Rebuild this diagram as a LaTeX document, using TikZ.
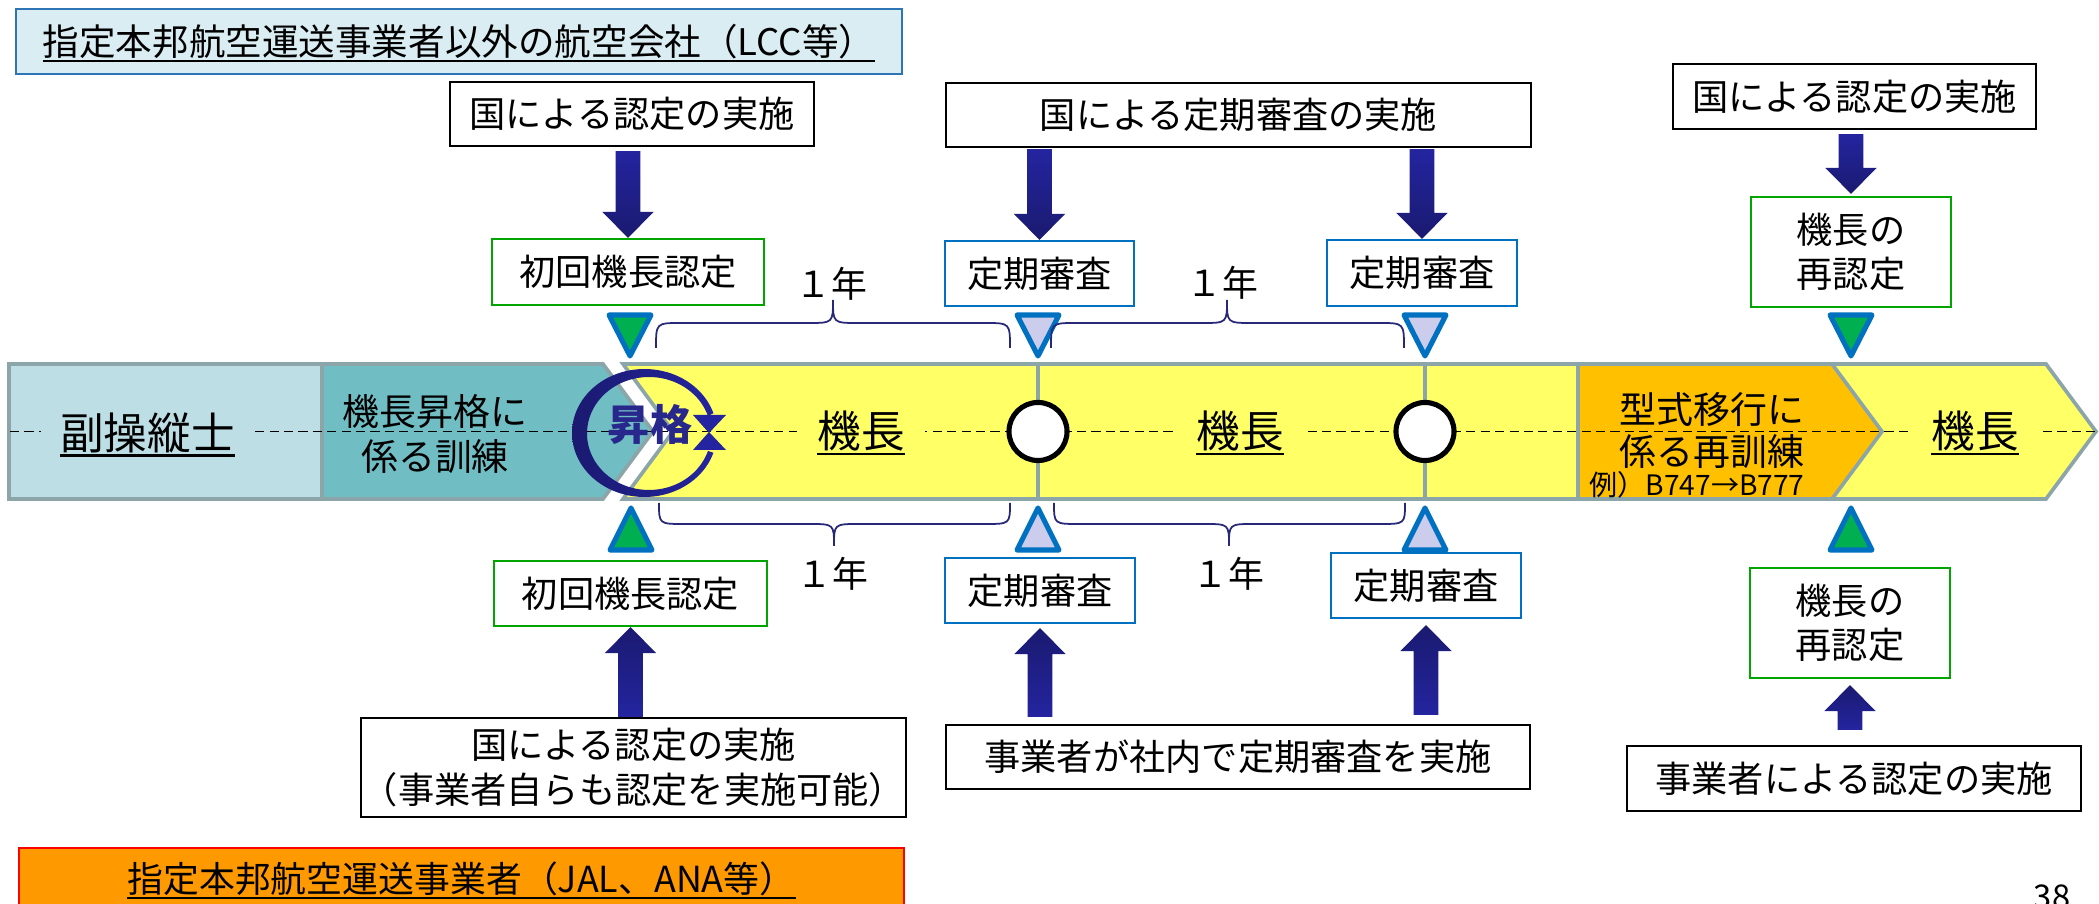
\documentclass[tikz,border=0pt]{standalone}
\usepackage{fontspec}
\setmainfont{Noto Sans CJK JP}
\usetikzlibrary{calc}
\definecolor{barblue}{RGB}{188,222,228}
\definecolor{barteal}{RGB}{112,189,195}
\definecolor{baryel}{RGB}{255,255,102}
\definecolor{barorg}{RGB}{255,192,0}
\definecolor{bargray}{RGB}{140,165,168}
\definecolor{navy}{RGB}{36,36,160}
\definecolor{navyd}{RGB}{26,26,112}
\definecolor{ringtext}{RGB}{40,40,140}
\definecolor{triblue}{RGB}{0,112,192}
\definecolor{trigreen}{RGB}{0,176,80}
\definecolor{trilav}{RGB}{204,204,236}
\definecolor{boxgreen}{RGB}{0,165,0}
\definecolor{boxblue}{RGB}{0,112,192}
\definecolor{titlefill}{RGB}{218,237,242}
\definecolor{titleline}{RGB}{46,117,182}
\definecolor{jalfill}{RGB}{255,153,0}
\definecolor{bracecol}{RGB}{40,40,120}
\newcommand\myfs[2]{\fontsize{#1pt}{#2pt}\selectfont}
\newcommand\myul[1]{\setbox0=\hbox{#1}\rlap{\smash{\rule[-0.18em]{\wd0}{0.065em}}}\box0}
\newcommand\blockarrow[3]{%
  \coordinate (ba-h) at ($#3!7.4pt!#2$);
  \shade[#1] ($#2!3.5pt!90:#3$) -- ($(ba-h)!3.5pt!90:#3$) -- ($(ba-h)!7.3pt!90:#3$) -- #3 -- ($(ba-h)!7.3pt!-90:#3$) -- ($(ba-h)!3.5pt!-90:#3$) -- ($#2!3.5pt!-90:#3$) -- cycle;
}
\newcommand\tridown[2]{\draw[tri, fill=#2] (#1-21,315) -- (#1+21,315) -- (#1,356) -- cycle;}
\newcommand\triup[2]{\draw[tri, fill=#2] (#1,508) -- (#1-21,550) -- (#1+21,550) -- cycle;}
\newcommand\bracetop[3]{\draw[bracest] (#1,348) .. controls (#1,323) .. (#1+25,323) -- (#3-25,323) .. controls (#3,323) .. (#3,300) .. controls (#3,323) .. (#3+25,323) -- (#2-25,323) .. controls (#2,323) .. (#2,348);}
\newcommand\bracebot[3]{\draw[bracest] (#1,503) .. controls (#1,524) .. (#1+25,524) -- (#3-25,524) .. controls (#3,524) .. (#3,546) .. controls (#3,524) .. (#3+25,524) -- (#2-25,524) .. controls (#2,524) .. (#2,503);}
\begin{document}
\begin{tikzpicture}[x=0.01cm, y=-0.01cm,
  bx/.style={draw, line width=0.6pt, fill=white, align=center, inner sep=0pt, font=\myfs{10.3}{12.7}},
  bk/.style={bx, draw=black},
  bg/.style={bx, draw=boxgreen},
  bb/.style={bx, draw=boxblue},
  barline/.style={draw=bargray, line width=1.05pt},
  tri/.style={draw=triblue, line width=1.45pt, line join=round},
  bracest/.style={draw=bracecol, line width=0.5pt},
  down/.style={top color=navy, bottom color=navyd},
  up/.style={top color=navyd, bottom color=navy},
  lbl/.style={inner sep=0pt, font=\myfs{12.4}{14}},
  yr/.style={inner sep=0pt, font=\myfs{10.2}{12}},
  ring/.style={circle, draw=black, fill=white, line width=1.45pt, minimum size=0.58cm, inner sep=0pt}]
\useasboundingbox (0,0) rectangle (2099,904);
% banners
\node[draw=titleline, fill=titlefill, line width=0.7pt, minimum width=8.86cm, minimum height=0.65cm, inner sep=0pt, font=\myfs{10.4}{12}] (ttl) at (459,41.5) {\myul{指定本邦航空運送事業者以外の航空会社（LCC等）}};
\node[draw=red, fill=jalfill, line width=0.7pt, minimum width=8.85cm, minimum height=0.62cm, inner sep=0pt, font=\myfs{10.2}{12}] (jal) at (461.5,879) {\myul{指定本邦航空運送事業者（JAL、ANA等）}};
% bars
\path[barline, fill=barblue] (9,364) rectangle (322,499);
\path[barline, fill=barteal] (322,364) -- (603,364) -- (653,431.5) -- (603,499) -- (322,499) -- cycle;
\path[barline, fill=baryel] (623,364) -- (2046,364) -- (2096,431.5) -- (2046,499) -- (623,499) -- (673,431.5) -- cycle;
\path[barline, fill=barorg] (1578,364) -- (1832,364) -- (1882,431.5) -- (1832,499) -- (1578,499) -- cycle;
% dashed centre line
\coordinate (dl) at (10,431.5);
\coordinate (dr) at (2099,431.5);
\draw[dash pattern=on 2.6pt off 1.5pt, line width=0.5pt] (dl) -- (dr);
% check points
\draw[bargray, line width=1.05pt] (1038,364) -- (1038,499);
\draw[bargray, line width=1.05pt] (1425,364) -- (1425,499);
\node[ring] (c1) at (1038,431.5) {};
\node[ring] (c2) at (1425,431.5) {};
% bar labels
\node[lbl, fill=barblue, minimum width=2.13cm, minimum height=0.71cm] (fo) at (147.5,432.5) {\myul{副操縦士}};
\node[inner sep=0pt, align=center, font=\myfs{10.5}{12.8}] (tr) at (435,434) {機長昇格に\\係る訓練};
\node[lbl, fill=baryel, minimum width=1.27cm, minimum height=0.6cm] (cp1) at (861,431) {\myul{機長}};
\node[lbl, fill=baryel, minimum width=1.27cm, minimum height=0.6cm] (cp2) at (1240,431) {\myul{機長}};
\node[lbl, fill=baryel, minimum width=1.27cm, minimum height=0.6cm] (cp3) at (1975,431) {\myul{機長}};
\node[inner sep=0pt, align=center, font=\myfs{10.5}{12.2}] (tt) at (1712,430.5) {型式移行に\\係る再訓練};
\node[inner sep=0pt, font=\myfs{8}{9}] (ex) at (1697,485) {例）B747→B777};
% promotion ring
\shade[left color=navyd, right color=navy] plot[domain=18:342, samples=90] ({644.5+72.5*cos(-\x)},{433+64*sin(-\x)}) -- plot[domain=18:342, samples=90] ({649+62*cos(\x-360)},{433.5+56.5*sin(\x-360)}) -- cycle;
\fill[navy] (693,415) -- (726,415) -- (709,433) -- cycle;
\fill[navy] (693,450) -- (726,450) -- (709,432) -- cycle;
\node[inner sep=0pt, font=\myfs{12}{14}\bfseries, text=ringtext] (sk) at (650,424) {昇格};
% triangles
\tridown{630}{trigreen}
\tridown{1038}{trilav}
\tridown{1425}{trilav}
\tridown{1851}{trigreen}
\triup{631}{trigreen}
\triup{1038}{trilav}
\triup{1425}{trilav}
\triup{1851}{trigreen}
% braces
\bracetop{656}{1010}{833}
\bracetop{1051}{1404}{1227}
\bracebot{659}{1010}{834}
\bracebot{1054}{1405}{1229}
\node[yr] (y1) at (831,284) {１年};
\node[yr] (y2) at (1222,283) {１年};
\node[yr] (y3) at (832,574) {１年};
\node[yr] (y4) at (1228,574) {１年};
% boxes top
\node[bk, minimum width=3.64cm, minimum height=0.64cm] (tA) at (632,114) {国による認定の実施};
\node[bg, minimum width=2.72cm, minimum height=0.66cm] (tB) at (628,272) {初回機長認定};
\node[bk, minimum width=5.85cm, minimum height=0.64cm] (tC) at (1238.5,115) {国による定期審査の実施};
\node[bb, minimum width=1.89cm, minimum height=0.65cm] (tD) at (1039.5,273.5) {定期審査};
\node[bb, minimum width=1.90cm, minimum height=0.66cm] (tE) at (1422,273) {定期審査};
\node[bk, minimum width=3.63cm, minimum height=0.65cm] (tF) at (1854.5,96.5) {国による認定の実施};
\node[bg, minimum width=2.00cm, minimum height=1.10cm] (tG) at (1851,252) {機長の\\再認定};
% boxes bottom
\node[bg, minimum width=2.73cm, minimum height=0.65cm] (bB) at (630.5,593.5) {初回機長認定};
\node[bk, minimum width=5.45cm, minimum height=0.99cm] (bA) at (633.5,767.5) {国による認定の実施\\（事業者自らも認定を実施可能）};
\node[bb, minimum width=1.90cm, minimum height=0.65cm] (bD) at (1040,590.5) {定期審査};
\node[bb, minimum width=1.90cm, minimum height=0.65cm] (bE) at (1426,585.5) {定期審査};
\node[bk, minimum width=5.84cm, minimum height=0.64cm] (bC) at (1238,757) {事業者が社内で定期審査を実施};
\node[bg, minimum width=2.00cm, minimum height=1.10cm] (bG) at (1850,623) {機長の\\再認定};
\node[bk, minimum width=4.54cm, minimum height=0.65cm] (bF) at (1854,778.5) {事業者による認定の実施};
% block arrows
\coordinate (a1s) at ($(tA.south -| tB.north)+(0,4)$);
\blockarrow{down}{(a1s)}{(tB.north)}
\coordinate (a2s) at ($(tC.south -| tD.north)+(0,1)$);
\blockarrow{down}{(a2s)}{(tD.north)}
\coordinate (a3s) at ($(tC.south -| tE.north)+(0,1)$);
\blockarrow{down}{(a3s)}{(tE.north)}
\coordinate (a4s) at ($(tF.south -| tG.north)+(0,4)$);
\coordinate (a4e) at ($(tG.north)+(0,-2)$);
\blockarrow{down}{(a4s)}{(a4e)}
\coordinate (a5s) at (bA.north -| bB.south);
\blockarrow{up}{(a5s)}{(bB.south)}
\coordinate (a6s) at ($(bC.north -| bD.south)+(0,-7)$);
\coordinate (a6e) at ($(bD.south)+(0,4)$);
\blockarrow{up}{(a6s)}{(a6e)}
\coordinate (a7s) at ($(bC.north -| bE.south)+(0,-9)$);
\coordinate (a7e) at ($(bE.south)+(0,6)$);
\blockarrow{up}{(a7s)}{(a7e)}
\coordinate (a8s) at ($(bF.north -| bG.south)+(0,-15)$);
\coordinate (a8e) at ($(bG.south)+(0,6)$);
\blockarrow{up}{(a8s)}{(a8e)}
% page number
\node[anchor=base, inner sep=0pt, font=\myfs{9.3}{10}] (pg) at (2052,909) {38};
\end{tikzpicture}
\end{document}
